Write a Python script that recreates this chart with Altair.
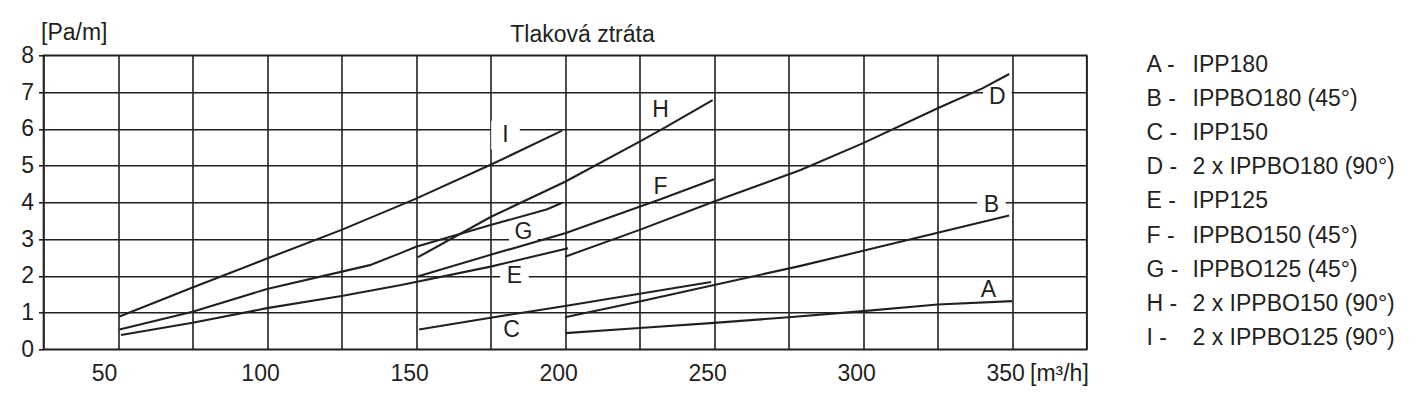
import altair as alt
import pandas as pd

# ---------------- data ----------------
series = ["A", "B", "C", "D", "E", "F", "G", "H", "I"]
names = ["IPP180", "IPPBO180 (45°)", "IPP150", "2 x IPPBO180 (90°)", "IPP125",
         "IPPBO150 (45°)", "IPPBO125 (45°)", "2 x IPPBO150 (90°)", "2 x IPPBO125 (90°)"]

a_x = [200, 225, 250, 275, 300, 325, 350]
a_y = [0.44, 0.58, 0.72, 0.87, 1.04, 1.22, 1.31]
b_x = [200, 225, 250, 279, 300, 325, 349]
b_y = [0.87, 1.30, 1.75, 2.27, 2.68, 3.17, 3.64]
c_x = [151, 175, 200, 225, 249]
c_y = [0.54, 0.86, 1.18, 1.51, 1.83]
d_x = [200, 225, 250, 279, 300, 325, 340, 349]
d_y = [2.52, 3.25, 4.02, 4.88, 5.61, 6.56, 7.10, 7.49]
e_x = [51, 75, 100, 125, 145, 175, 201]
e_y = [0.39, 0.72, 1.12, 1.45, 1.75, 2.25, 2.75]
f_x = [150.5, 175, 200, 232, 250]
f_y = [1.98, 2.57, 3.16, 4.08, 4.63]
g_x = [50.5, 75, 100, 134.5, 144.6, 150, 175, 194, 199]
g_y = [0.54, 1.02, 1.64, 2.29, 2.61, 2.79, 3.38, 3.81, 3.99]
h_x = [150.5, 175, 200, 225, 233, 249.5]
h_y = [2.50, 3.60, 4.56, 5.65, 6.01, 6.78]
i_x = [50.5, 75, 100, 125, 150, 175, 199]
i_y = [0.89, 1.68, 2.47, 3.25, 4.10, 5.02, 5.95]

# curve letter anchors (data coordinates)
lab_x = [342, 343, 182, 345, 183, 232, 186, 232, 180]
lab_y = [1.61, 3.93, 0.53, 6.87, 1.99, 4.42, 3.20, 6.51, 5.83]

x_ticks = [25, 50, 75, 100, 125, 150, 175, 200, 225, 250, 275, 300, 325, 350, 375]
y_ticks = [0, 1, 2, 3, 4, 5, 6, 7, 8]

title_text = "Tlaková ztráta"
y_unit = "[Pa/m]"
x_unit = "[m³/h]"

# ---------------- tables ----------------
xs = [a_x, b_x, c_x, d_x, e_x, f_x, g_x, h_x, i_x]
ys = [a_y, b_y, c_y, d_y, e_y, f_y, g_y, h_y, i_y]
rows = []
for s, xx, yy in zip(series, xs, ys):
    for xv, yv in zip(xx, yy):
        rows.append({"series": s, "x": xv, "y": yv})
df = pd.DataFrame(rows)

lab_df = pd.DataFrame({"key": series, "x": lab_x, "y": lab_y})
leg_df = pd.DataFrame({"key": series,
                       "letter": [s + " -" for s in series],
                       "name": names})

FONT = "Liberation Sans"
INK = "#231f20"
FS = 23
W, H = 1043.2, 294
PAD_L, PAD_T = 43.5, 55.3

x_scale = alt.Scale(domain=[25, 375], nice=False, zero=False)
y_scale = alt.Scale(domain=[0, 8], nice=False)

x_axis = alt.Axis(values=x_ticks, grid=True, ticks=False, domain=False, title=None,
                  labelExpr="(datum.value % 50 == 0 && datum.value >= 50 && datum.value <= 350) ? datum.label : ''",
                  labelOffset={"condition": {"test": "datum.value == 50", "value": -14}, "value": -7},
                  labelPadding=13, labelFontSize=FS, labelFont=FONT,
                  labelColor=INK, labelFlush=False, labelOverlap=False,
                  gridColor=INK, gridWidth=1.6)
y_axis = alt.Axis(values=y_ticks, grid=True, ticks=True, tickSize=5, tickColor=INK,
                  tickWidth=1.6, domain=False, title=None, labelPadding=5,
                  labelFontSize=FS, labelFont=FONT, labelColor=INK,
                  labelFlush=False, labelOverlap=False, gridColor=INK, gridWidth=1.6)

X = alt.X("x:Q", scale=x_scale, axis=x_axis)
Y = alt.Y("y:Q", scale=y_scale, axis=y_axis)

boxed = ["B", "D", "E", "G", "I"]
boxes = alt.Chart(lab_df).transform_filter(
    alt.FieldOneOfPredicate(field="key", oneOf=boxed)
).mark_square(size=820, color="white", filled=True, opacity=1, strokeWidth=0).encode(
    x=X, y=Y,
)

lines = alt.Chart(df).mark_line(color=INK, strokeWidth=2.1).encode(
    x=X, y=Y, detail="series:N",
)

letters = alt.Chart(lab_df).mark_text(font=FONT, fontSize=FS, color=INK,
                                      align="center", baseline="middle").encode(
    x=X, y=Y, text="key:N",
)

title = alt.Chart(pd.DataFrame({"t": [title_text]})).mark_text(
    font=FONT, fontSize=FS, color=INK, align="center", baseline="alphabetic"
).encode(x=alt.value(539), y=alt.value(-13.6), text="t:N")

yunit = alt.Chart(pd.DataFrame({"t": [y_unit]})).mark_text(
    font=FONT, fontSize=FS, color=INK, align="left", baseline="alphabetic"
).encode(x=alt.value(-2.5), y=alt.value(-15.3), text="t:N")

xunit = alt.Chart(pd.DataFrame({"t": [x_unit]})).mark_text(
    font=FONT, fontSize=FS, color=INK, align="left", baseline="alphabetic"
).encode(x=alt.value(986.5), y=alt.value(H + 31.5), text="t:N")

inner = alt.layer(boxes, lines, letters, title, yunit, xunit)

leg_y = alt.Y("key:N", sort=series,
              scale=alt.Scale(domain=series, range=[16.4, 289.7], padding=0), axis=None)
leg_letters = alt.Chart(leg_df).mark_text(font=FONT, fontSize=FS, color=INK,
                                          align="left", baseline="alphabetic").encode(
    x=alt.value(1103), y=leg_y, text="letter:N")
leg_names = alt.Chart(leg_df).mark_text(font=FONT, fontSize=FS, color=INK,
                                        align="left", baseline="alphabetic").encode(
    x=alt.value(1149), y=leg_y, text="name:N")

chart = alt.layer(inner, leg_letters, leg_names).resolve_scale(y="independent").properties(
    width=W, height=H,
    autosize=alt.AutoSizeParams(type="none"),
    padding={"left": PAD_L, "top": PAD_T, "right": 1423 - PAD_L - W, "bottom": 398 - PAD_T - H},
    background="white",
).configure_view(stroke=INK, strokeWidth=1.6)

chart.save("out.html", embed_options={"renderer": "svg", "actions": False})
